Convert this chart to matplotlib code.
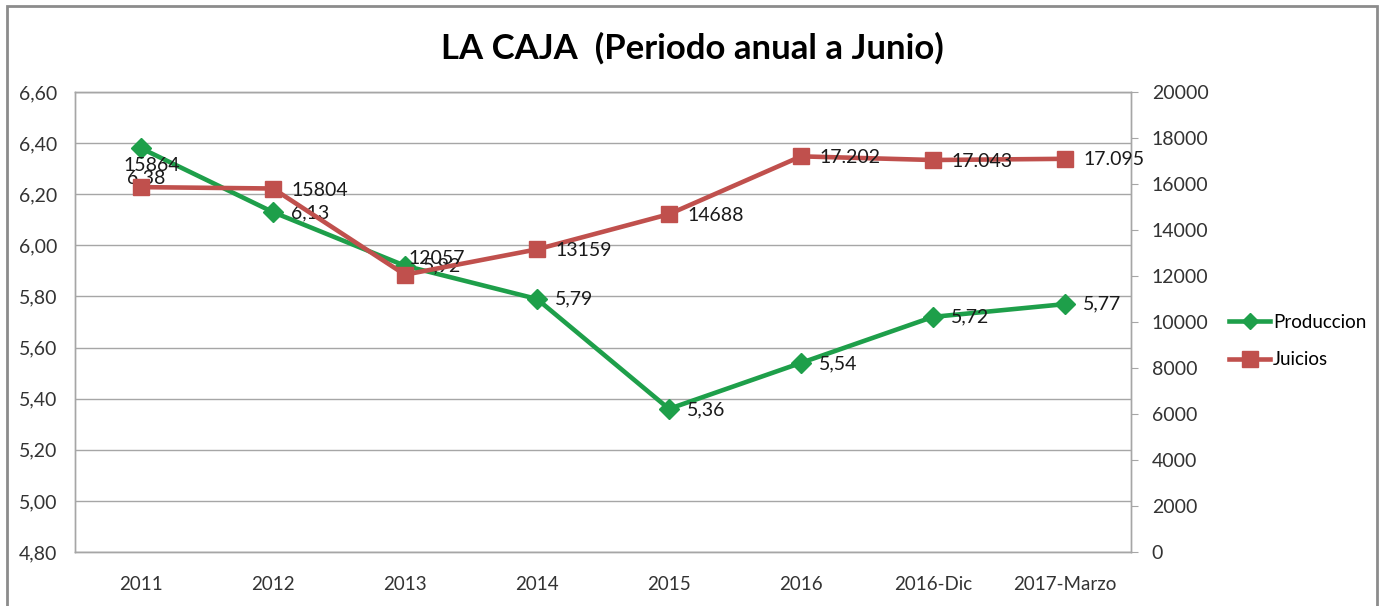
import matplotlib.pyplot as plt
from matplotlib.lines import Line2D
from matplotlib.patches import Rectangle

plt.rcParams['font.family'] = ['Lato', 'DejaVu Sans']

periodos = ["2011", "2012", "2013", "2014", "2015", "2016", "2016-Dic", "2017-Marzo"]
produccion = [6.38, 6.13, 5.92, 5.79, 5.36, 5.54, 5.72, 5.77]
juicios = [15864, 15804, 12057, 13159, 14688, 17202, 17043, 17095]
etiq_prod = ["6,38", "6,13", "5,92", "5,79", "5,36", "5,54", "5,72", "5,77"]
etiq_juicios = ["15864", "15804", "12057", "13159", "14688", "17.202", "17.043", "17.095"]

VERDE = '#1E9F4A'
ROJO = '#C0504D'
GRIS = '#A6A6A6'

# label offsets in pixels (dx, dy), Excel moved a couple by hand
off_prod = [(-14, -30), (18, -1), (18, 0), (18, 0), (18, -1), (18, -1), (18, 0), (18, 0)]
off_juic = [(-18, 22), (18, -2), (3, 16), (18, -1), (18, -1), (18, -1), (18, -1), (18, -1)]

fig = plt.figure(figsize=(13.84, 6.06), dpi=100)
ax = fig.add_axes([75 / 1384, 54 / 606, 1056 / 1384, 460 / 606])
ax2 = ax.twinx()

x = list(range(len(periodos)))

ax.plot(x, produccion, color=VERDE, lw=3.3, marker='D', ms=10, zorder=3)
ax2.plot(x, juicios, color=ROJO, lw=3.3, marker='s', ms=12, zorder=3)

for i in x:
    ax.annotate(etiq_prod[i], (i, produccion[i]), xytext=off_prod[i], textcoords='offset pixels',
                ha='left', va='center', fontsize=14, color='#1a1a1a')
    ax2.annotate(etiq_juicios[i], (i, juicios[i]), xytext=off_juic[i], textcoords='offset pixels',
                 ha='left', va='center', fontsize=14, color='#1a1a1a')

ax.set_xlim(-0.5, len(periodos) - 0.5)
ax.set_ylim(4.8, 6.6)
ax2.set_ylim(0, 20000)

yt = [4.8 + 0.2 * k for k in range(10)]
ax.set_yticks(yt)
ax.set_yticklabels([f"{v:.2f}".replace('.', ',') for v in yt])
ax2.set_yticks(range(0, 20001, 2000))
ax.set_xticks(x)
ax.set_xticklabels(periodos)

ax.grid(axis='y', color=GRIS, lw=1)
ax.set_axisbelow(True)
ax.tick_params(axis='y', length=0, labelsize=14, pad=13, colors='#333333')
ax.tick_params(axis='x', length=0, labelsize=13.5, pad=17, colors='#333333')
ax2.tick_params(axis='y', length=5, color=GRIS, labelsize=14, pad=10, labelcolor='#333333')
for a in (ax, ax2):
    for s in a.spines.values():
        s.set_color(GRIS)
        s.set_linewidth(1)

fig.suptitle("LA CAJA  (Periodo anual a Junio)", x=0.5, y=0.921, va='center',
             fontsize=25, fontweight='bold')

handles = [Line2D([], [], color=VERDE, lw=3.3, marker='D', ms=8),
           Line2D([], [], color=ROJO, lw=3.3, marker='s', ms=11)]
fig.legend(handles, ["Produccion", "Juicios"], loc='center left',
           bbox_to_anchor=(1212 / 1384, 1 - 341 / 606), frameon=False,
           fontsize=13.5, handlelength=2.2, handletextpad=0.15, labelspacing=1.1)

fig.patches.append(Rectangle((7 / 1384, -0.05), 1370 / 1384, 1.05 - 6 / 606,
                             transform=fig.transFigure, fill=False, ec='#8c8c8c', lw=2))

fig.savefig('out.png', dpi=100)
